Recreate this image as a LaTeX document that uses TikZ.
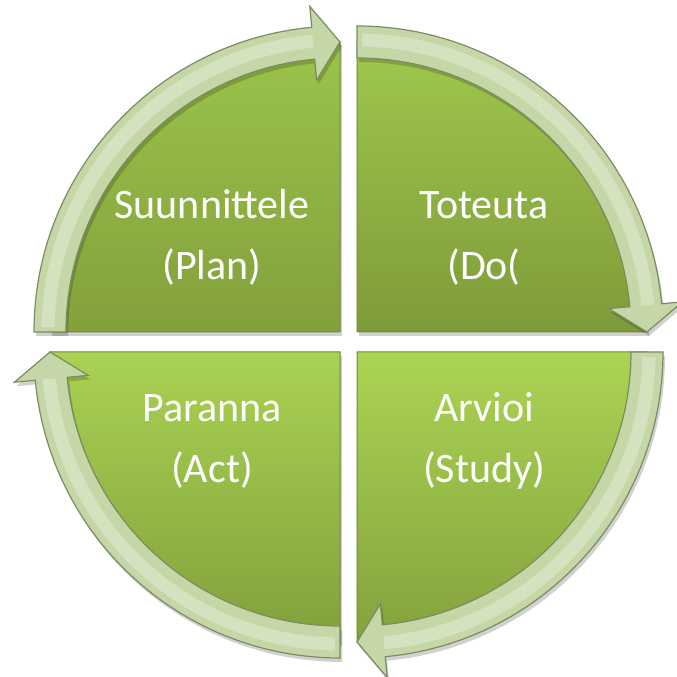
\documentclass[tikz,border=0pt]{standalone}
\usepackage{fontspec}
\setmainfont{Carlito}
\usetikzlibrary{shadows}
\definecolor{ringfill}{HTML}{C6D7A7}
\definecolor{ringedge}{HTML}{7B8B62}
\definecolor{secedge}{HTML}{6E8B30}
\definecolor{tlTop}{HTML}{9BC44B}
\definecolor{tlBot}{HTML}{82A03C}
\definecolor{trTop}{HTML}{9FC84D}
\definecolor{trBot}{HTML}{7E9B39}
\definecolor{brTop}{HTML}{ABD453}
\definecolor{brBot}{HTML}{83A23D}
\definecolor{blTop}{HTML}{A9D252}
\definecolor{blBot}{HTML}{81A03C}
\tikzset{
  sector/.style={draw=secedge, line width=1pt,
    drop shadow={shadow xshift=2pt, shadow yshift=-4pt, opacity=0.18, fill=black}},
  ringarrow/.style={fill=ringfill, draw=ringedge, line width=1.2pt, line join=miter,
    drop shadow={shadow xshift=2pt, shadow yshift=-4pt, opacity=0.18, fill=black}},
  ringshine/.style={draw=white, opacity=0.28, line width=13pt},
  label/.style={text=white, font=\fontsize{42}{61}\selectfont, align=center, anchor=base}
}
\newcommand\myring[2]{%
  \pgfmathsetmacro\myrb{#2-84.7}%
  \pgfmathsetmacro\myre{#2-90}%
  \path[ringarrow] ([shift={(#2:306)}]#1) arc[start angle=#2, end angle=\myrb, radius=306]
    -- ([shift={(\myrb:327)}]#1) -- ([shift={(\myre:290)}]#1) -- ([shift={(\myrb:253)}]#1)
    -- ([shift={(\myrb:274)}]#1) arc[start angle=\myrb, end angle=#2, radius=274] -- cycle;
  \draw[ringshine] ([shift={(#2-1:292)}]#1) arc[start angle=#2-1, end angle=\myrb, radius=292];
}
\begin{document}
\begin{tikzpicture}[x=1pt,y=1pt]
\useasboundingbox (0,0) rectangle (677,677);
\coordinate (TL) at (340,345);
\coordinate (TR) at (357,345);
\coordinate (BR) at (357,325);
\coordinate (BL) at (340,325);
% sectors
\path[sector, top color=tlTop, bottom color=tlBot]
  (TL) -- ([shift={(180:290)}]TL) arc[start angle=180, end angle=90, radius=290] -- cycle;
\path[sector, top color=trTop, bottom color=trBot]
  (TR) -- ([shift={(90:290)}]TR) arc[start angle=90, end angle=0, radius=290] -- cycle;
\path[sector, top color=brTop, bottom color=brBot]
  (BR) -- ([shift={(0:290)}]BR) arc[start angle=0, end angle=-90, radius=290] -- cycle;
\path[sector, top color=blTop, bottom color=blBot]
  (BL) -- ([shift={(-90:290)}]BL) arc[start angle=-90, end angle=-180, radius=290] -- cycle;
% rings
\myring{TL}{180}
\myring{TR}{90}
\myring{BR}{0}
\myring{BL}{-90}
% labels
\node[label] (plan) at (212,397) {Suunnittele\\(Plan)};
\node[label] (do) at (484,397) {Toteuta\\(Do(};
\node[label] (act) at (212,194) {Paranna\\(Act)};
\node[label] (study) at (484,194) {Arvioi\\(Study)};
\end{tikzpicture}
\end{document}
